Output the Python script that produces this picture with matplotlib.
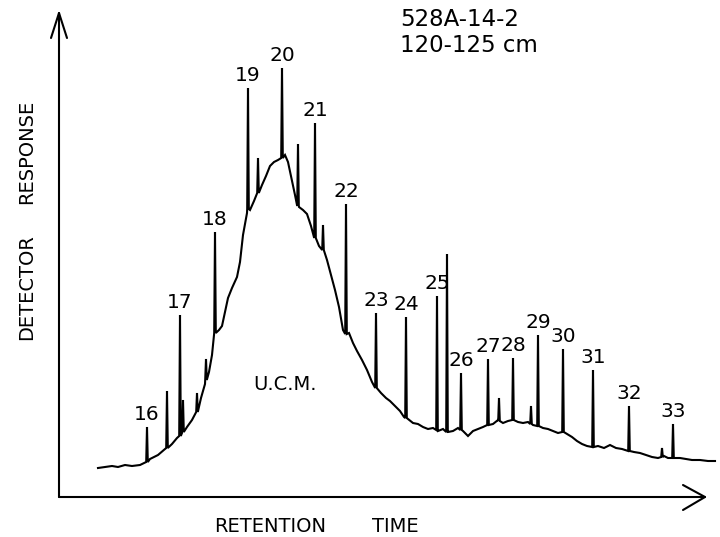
import matplotlib
matplotlib.use("Agg")
import matplotlib.pyplot as plt

# gas chromatogram 528A-14-2, 120-125 cm
# retention time (chart units) and detector response along the trace envelope
base_t = [98, 105, 112, 118, 125, 132, 140, 146, 150, 158, 167, 172, 177, 182,
          187, 192, 197, 201, 205, 209, 212, 215, 219, 222, 225, 228, 232, 237,
          240, 243, 247, 250, 254, 258, 262, 266, 270, 274, 278, 282, 285, 288,
          291, 295, 299, 303, 307, 311, 315, 319, 323, 327, 331, 335, 339, 343,
          346, 349, 353, 357, 362, 367, 372, 376, 381, 386, 390, 395, 400, 404,
          408, 413, 418, 423, 428, 433, 438, 443, 448, 453, 458, 463, 468, 473,
          478, 483, 488, 493, 498, 503, 508, 513, 518, 523, 528, 533, 538, 543,
          548, 553, 558, 563, 567, 572, 577, 582, 587, 592, 598, 604, 610, 616,
          622, 628, 634, 640, 646, 652, 658, 664, 668, 675, 680, 686, 692, 700,
          708, 715]
base_r = [29, 30, 31, 30, 32, 31, 32, 35, 38, 42, 49, 53, 59, 64,
          70, 77, 87, 99, 113, 125, 142, 162, 167, 171, 185, 199, 209, 220,
          235, 262, 284, 287, 296, 304, 312, 321, 331, 335, 337, 339, 342, 335,
          321, 302, 290, 287, 283, 271, 261, 251, 248, 237, 222, 207, 190, 167,
          162, 164, 154, 146, 137, 127, 115, 109, 104, 99, 96, 91, 86, 80,
          78, 74, 73, 70, 68, 69, 66, 68, 65, 66, 69, 66, 61, 66,
          68, 70, 73, 73, 77, 74, 76, 77, 75, 74, 75, 72, 71, 69,
          68, 66, 64, 65, 63, 60, 56, 53, 51, 50, 51, 49, 52, 49,
          48, 46, 45, 44, 42, 40, 39, 41, 39, 39, 39, 38, 37, 37,
          36, 36]

# resolved peaks: position, apex, foot on the hump, carbon number ("" = unlabelled)
peak_t = [147, 167, 180, 183, 197, 206, 215, 248, 258, 282, 298, 315, 323, 346,
          376, 406, 437, 447, 461, 488, 499, 513, 531, 538, 563, 593, 629, 662, 673]
peak_top = [70, 106, 182, 97, 104, 138, 265, 409, 339, 429, 353, 374, 272, 293,
            184, 180, 201, 243, 124, 138, 99, 139, 91, 162, 148, 127, 91, 49, 73]
peak_foot = [35, 49, 61, 65, 85, 117, 164, 288, 304, 339, 291, 259, 247, 163,
             109, 79, 67, 65, 67, 72, 76, 77, 73, 71, 65, 50, 46, 40, 39]
peak_name = ["16", "", "17", "", "", "", "18", "19", "", "20", "", "21", "", "22",
             "23", "24", "25", "", "26", "27", "", "28", "", "29", "30", "31", "32", "", "33"]

fig = plt.figure(figsize=(7.2, 5.37), dpi=100)
ax = fig.add_axes([0, 0, 1, 1])
ax.set_xlim(0, 720)
ax.set_ylim(-40, 497)
ax.axis("off")

# merge the envelope with the spikes
pts = [(t, r) for t, r in zip(base_t, base_r)
       if min(abs(t - p) for p in peak_t) >= 1]
for t, top, foot in zip(peak_t, peak_top, peak_foot):
    pts += [(t - 0.8, foot), (t, top), (t + 0.8, foot)]
pts.sort()
ax.plot([p[0] for p in pts], [p[1] for p in pts], color="black", lw=1.5,
        solid_joinstyle="miter")

for t, top, name in zip(peak_t, peak_top, peak_name):
    if name:
        ax.annotate(name, (t, top), xytext=(0, 2), textcoords="offset points",
                    ha="center", va="bottom", fontsize=14.5)

# hand drawn axes with open arrow heads
k = dict(color="black", lw=1.5, solid_capstyle="round")
ax.plot([59, 59], [0, 484], **k)
ax.plot([51, 59, 67], [459, 484, 459], **k)
ax.plot([59, 705], [0, 0], **k)
ax.plot([683, 705, 683], [12, 0, -13], **k)

ax.text(285, 112, "U.C.M.", ha="center", va="center", fontsize=14)
ax.text(400, 477, "528A-14-2", ha="left", va="center", fontsize=16.5)
ax.text(400, 451, "120-125 cm", ha="left", va="center", fontsize=16.5)
ax.text(27, 210, "DETECTOR", rotation=90, ha="center", va="center", fontsize=14)
ax.text(27, 345, "RESPONSE", rotation=90, ha="center", va="center", fontsize=14)
ax.text(270, -30, "RETENTION", ha="center", va="center", fontsize=14)
ax.text(395, -30, "TIME", ha="center", va="center", fontsize=14)

fig.savefig("out.png", dpi=100)
